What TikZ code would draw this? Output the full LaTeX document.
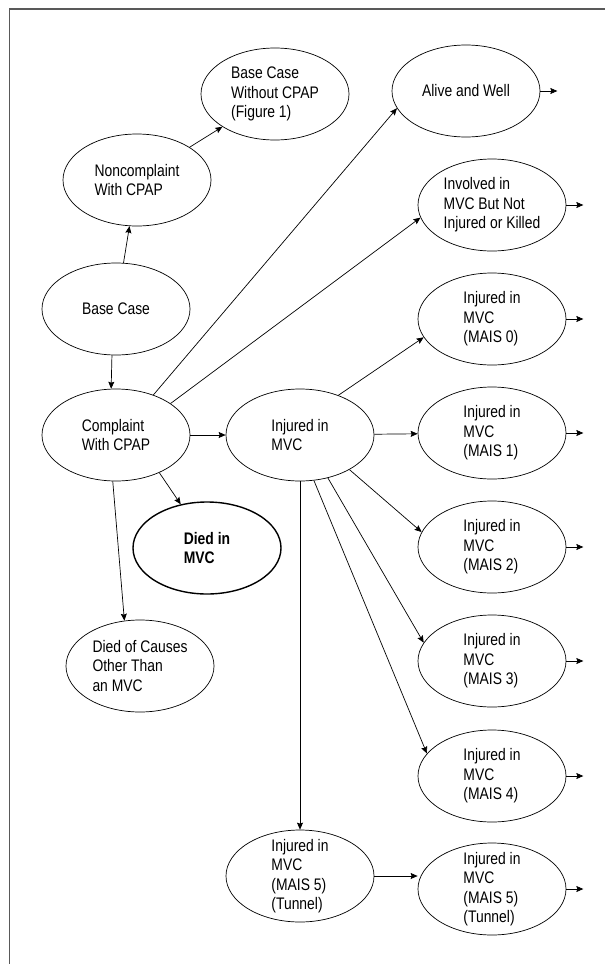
\documentclass[tikz,border=0pt]{standalone}
\usepackage{fontspec}
\setmainfont{Liberation Sans}[FakeStretch=0.83]
\usetikzlibrary{shapes.geometric,arrows.meta}

\begin{document}
\begin{tikzpicture}[x=1bp, y=-1bp,
        state/.style={draw, ellipse, line width=0.7bp, minimum width=148bp, minimum height=92bp,
            inner xsep=0pt, inner ysep=-20bp, align=left, font=\fontsize{16.8}{19.5}\selectfont},
        dead/.style={state, line width=1.4bp, font=\fontsize{16.8}{19.5}\selectfont\bfseries},
        arr/.style={-{Stealth[length=7bp, width=6bp, inset=1bp]}, line width=0.7bp}]
        \useasboundingbox (0, 0) rectangle (605, 964);
        \draw[line width=1.6bp, black!65] (9.5, 964) -- (9.5, 9) -- (605, 9);

        \node[state] (bcw) at (275, 94) {Base Case\\Without CPAP\\(Figure 1)};
        \node[state] (nonc) at (137, 180) {Noncomplaint\\With CPAP};
        \node[state] (base) at (116, 309) {Base Case};
        \node[state] (comp) at (116, 435) {Complaint\\With CPAP};
        \node[state] (inj) at (300, 435) {Injured in\\MVC};
        \node[dead] (died) at (207, 548) {Died in\\MVC};
        \node[state] (other) at (140, 666) {Died of Causes\\Other Than\\an MVC};

        \node[state] (alive) at (466, 91) {Alive and Well};
        \node[state] (invol) at (492, 205) {Involved in\\MVC But Not\\Injured or Killed};
        \node[state] (mais0) at (492, 319) {Injured in\\MVC\\(MAIS 0)};
        \node[state] (mais1) at (492, 433) {Injured in\\MVC\\(MAIS 1)};
        \node[state] (mais2) at (492, 547) {Injured in\\MVC\\(MAIS 2)};
        \node[state] (mais3) at (492, 661) {Injured in\\MVC\\(MAIS 3)};
        \node[state] (mais4) at (492, 776) {Injured in\\MVC\\(MAIS 4)};
        \node[state] (tunA) at (300, 876) {Injured in\\MVC\\(MAIS 5)\\(Tunnel)};
        \node[state] (tunB) at (492, 889) {Injured in\\MVC\\(MAIS 5)\\(Tunnel)};

        \draw[arr] (base) -- (nonc);
        \draw[arr] (nonc) -- (bcw);
        \draw[arr] (base.265) -- (comp.96);
        \draw[arr] (comp.47) -- (alive.194);
        \draw[arr] (comp.30) -- (invol.190);
        \draw[arr] (comp) -- (inj);
        \draw[arr] (comp.-41) -- (died.121);
        \draw[arr] (comp.266) -- (other.109);

        \draw[arr] (inj.46) -- (mais0.195);
        \draw[arr] (inj) -- (mais1);
        \draw[arr] (inj.-35) -- (mais2.168);
        \draw[arr] (inj.-57) -- (mais3.165);
        \draw[arr] (inj.-73) -- (mais4.161);
        \draw[arr] (inj) -- (tunA);
        \draw[arr] (tunA.east) -- (tunA.east -| tunB.west);

        \foreach \n in {alive,invol,mais0,mais1,mais2,mais3,mais4,tunB} {
            \coordinate (\n-out) at ([xshift=17bp]\n.east);
            \draw[arr] (\n.east) -- (\n-out);
        }
    \end{tikzpicture}
\end{document}
